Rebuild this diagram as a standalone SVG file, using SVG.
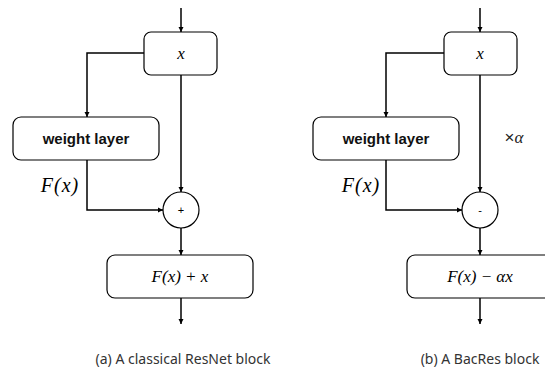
<svg xmlns="http://www.w3.org/2000/svg" width="545" height="370" viewBox="0 0 545 370">
  <defs>
    <marker id="arrow" markerWidth="6" markerHeight="6" refX="5" refY="3" orient="auto" markerUnits="userSpaceOnUse">
      <path d="M0,0.5 L5,3 L0,5.5 Z" fill="#000"/>
    </marker>
  </defs>
  <style>
    .box { fill: #fff; stroke: #000; stroke-width: 1.2; }
    .op { fill: #fff; stroke: #000; stroke-width: 1.2; }
    .wire { fill: none; stroke: #000; stroke-width: 1.5; marker-end: url(#arrow); }
    .math { font-family: "Liberation Serif", "DejaVu Serif", serif; font-style: italic; fill: #000; text-anchor: middle; }
    .fx { font-size: 20px; letter-spacing: 1px; }
    .inbox { font-size: 17px; }
    .scale { font-size: 17px; fill: #222; }
    .times { font-family: "Liberation Sans", sans-serif; font-style: normal; }
    .label { font-family: "Liberation Sans", "Noto Sans", sans-serif; font-weight: bold; font-size: 15px; fill: #111; text-anchor: middle; }
    .sign { font-family: "Liberation Sans", sans-serif; font-size: 11px; fill: #000; text-anchor: middle; }
    .caption { font-family: "Noto Sans", "Liberation Sans", sans-serif; font-size: 14px; fill: #333; text-anchor: middle; }
  </style>

  <rect width="545" height="370" fill="#fff"/>

  <!-- connectors -->
  <g id="connectors">
    <!-- classical ResNet block -->
    <path class="wire" d="M181,8 V32"/>
    <path class="wire" d="M144,53 H87 V117"/>
    <path class="wire" d="M181,75 V192"/>
    <path class="wire" d="M87,160 V210 H163"/>
    <path class="wire" d="M181,228 V255"/>
    <path class="wire" d="M181,298 V324"/>
    <!-- BacRes block -->
    <path class="wire" d="M480,8 V32"/>
    <path class="wire" d="M444,53 H386 V117"/>
    <path class="wire" d="M480,75 V192"/>
    <path class="wire" d="M386,160 V210 H462"/>
    <path class="wire" d="M480,228 V255"/>
    <path class="wire" d="M480,298 V324"/>
  </g>

  <!-- (a) classical ResNet block -->
  <g id="a-input">
    <rect class="box" x="144" y="32" width="73" height="43" rx="7"/>
    <text class="math inbox" x="181" y="59">x</text>
  </g>
  <g id="a-weight">
    <rect class="box" x="13" y="117" width="146" height="43" rx="8"/>
    <text class="label" x="86" y="144">weight layer</text>
  </g>
  <g id="a-fx">
    <text class="math fx" x="60" y="192">F(x)</text>
  </g>
  <g id="a-sum">
    <circle class="op" cx="181" cy="210" r="18"/>
    <text class="sign" x="181" y="214">+</text>
  </g>
  <g id="a-output">
    <rect class="box" x="107" y="255" width="146" height="43" rx="8"/>
    <text class="math inbox" x="180" y="282">F(x) + x</text>
  </g>
  <text class="caption" x="183" y="364">(a) A classical ResNet block</text>

  <!-- (b) BacRes block -->
  <g id="b-input">
    <rect class="box" x="444" y="32" width="73" height="43" rx="7"/>
    <text class="math inbox" x="480" y="59">x</text>
  </g>
  <g id="b-weight">
    <rect class="box" x="313" y="117" width="146" height="43" rx="8"/>
    <text class="label" x="386" y="144">weight layer</text>
  </g>
  <g id="b-fx">
    <text class="math fx" x="361" y="192">F(x)</text>
  </g>
  <g id="b-alpha">
    <text class="math scale" x="514" y="143"><tspan class="times">×</tspan>α</text>
  </g>
  <g id="b-diff">
    <circle class="op" cx="480" cy="210" r="18"/>
    <text class="sign" x="480" y="214">-</text>
  </g>
  <g id="b-output">
    <rect class="box" x="407" y="255" width="146" height="43" rx="8"/>
    <text class="math inbox" x="480" y="282">F(x) − αx</text>
  </g>
  <text class="caption" x="480" y="364">(b) A BacRes block</text>
</svg>
